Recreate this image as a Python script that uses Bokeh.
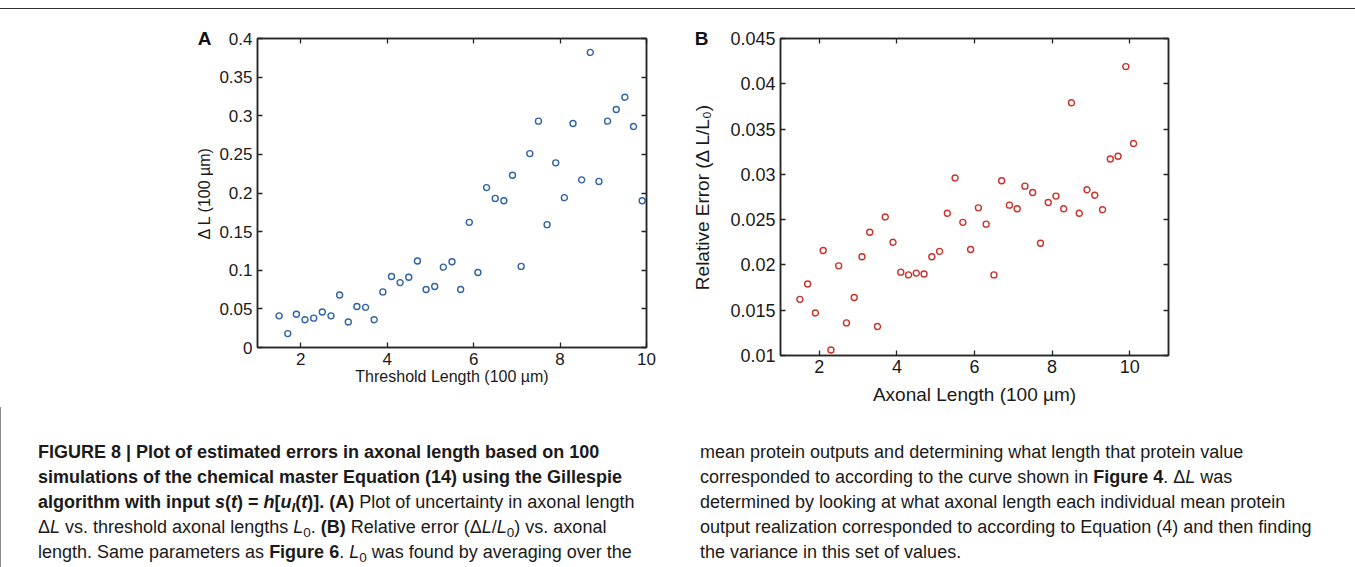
from bokeh.plotting import figure
from bokeh.models import LinearAxis, FixedTicker, Div, Spacer
from bokeh.layouts import column, row
from bokeh.embed import file_html
from bokeh.resources import INLINE

# ---------------- data ----------------
a_x = [1.5, 1.7, 1.9, 2.1, 2.3, 2.5, 2.7, 2.9, 3.1, 3.3, 3.5, 3.7, 3.9, 4.1, 4.3,
       4.5, 4.7, 4.9, 5.1, 5.3, 5.5, 5.7, 5.9, 6.1, 6.3, 6.5, 6.7, 6.9, 7.1, 7.3,
       7.5, 7.7, 7.9, 8.1, 8.3, 8.5, 8.7, 8.9, 9.1, 9.3, 9.5, 9.7, 9.9]
a_y = [0.041, 0.018, 0.043, 0.036, 0.038, 0.046, 0.041, 0.068, 0.033, 0.053, 0.052,
       0.036, 0.072, 0.092, 0.084, 0.091, 0.112, 0.075, 0.079, 0.104, 0.111, 0.075,
       0.162, 0.097, 0.207, 0.193, 0.190, 0.223, 0.105, 0.251, 0.293, 0.159, 0.239,
       0.194, 0.290, 0.217, 0.382, 0.215, 0.293, 0.308, 0.324, 0.286, 0.190]

b_x = [1.5, 1.7, 1.9, 2.1, 2.3, 2.5, 2.7, 2.9, 3.1, 3.3, 3.5, 3.7, 3.9, 4.1, 4.3,
       4.5, 4.7, 4.9, 5.1, 5.3, 5.5, 5.7, 5.9, 6.1, 6.3, 6.5, 6.7, 6.9, 7.1, 7.3,
       7.5, 7.7, 7.9, 8.1, 8.3, 8.5, 8.7, 8.9, 9.1, 9.3, 9.5, 9.7, 9.9, 10.1]
b_y = [0.0162, 0.0179, 0.0147, 0.0216, 0.0106, 0.0199, 0.0136, 0.0164, 0.0209, 0.0236,
       0.0132, 0.0253, 0.0225, 0.0192, 0.0189, 0.0191, 0.0190, 0.0209, 0.0215, 0.0257,
       0.0296, 0.0247, 0.0217, 0.0263, 0.0245, 0.0189, 0.0293, 0.0266, 0.0262, 0.0287,
       0.0280, 0.0224, 0.0269, 0.0276, 0.0262, 0.0379, 0.0257, 0.0283, 0.0277, 0.0261,
       0.0317, 0.0320, 0.0419, 0.0334]

a_xticks = [2, 4, 6, 8, 10]
a_xlabels = ["2", "4", "6", "8", "10"]
a_yticks = [0, 0.05, 0.1, 0.15, 0.2, 0.25, 0.3, 0.35, 0.4]
a_ylabels = ["0", "0.05", "0.1", "0.15", "0.2", "0.25", "0.3", "0.35", "0.4"]
b_xticks = [2, 4, 6, 8, 10]
b_xlabels = ["2", "4", "6", "8", "10"]
b_yticks = [0.01, 0.015, 0.02, 0.025, 0.03, 0.035, 0.04, 0.045]
b_ylabels = ["0.01", "0.015", "0.02", "0.025", "0.03", "0.035", "0.04", "0.045"]

FONT = "Liberation Sans"
AX = "#262626"


def style_panel(p, xt, xl, yt, yl, tick_size, title_size, x_std, y_std, xlab_std, ylab_std,
                letter, letter_std):
    p.outline_line_color = AX
    p.outline_line_width = 1.5
    p.grid.visible = False
    p.background_fill_color = "white"
    p.border_fill_color = "white"
    for ax, ticks, labels, std, lstd in ((p.xaxis[0], xt, xl, x_std, xlab_std),
                                         (p.yaxis[0], yt, yl, y_std, ylab_std)):
        ax.ticker = FixedTicker(ticks=ticks)
        ax.major_label_overrides = {t: s for t, s in zip(ticks, labels)}
        ax.major_tick_in = 5
        ax.major_tick_out = 0
        ax.minor_tick_line_color = None
        ax.axis_line_color = AX
        ax.axis_line_width = 1.5
        ax.major_tick_line_color = AX
        ax.major_tick_line_width = 1.3
        ax.major_label_text_font = FONT
        ax.major_label_text_font_size = tick_size
        ax.major_label_text_color = "#1a1a1a"
        ax.major_label_standoff = std
        ax.axis_label_text_font = FONT
        ax.axis_label_text_font_size = title_size
        ax.axis_label_text_font_style = "normal"
        ax.axis_label_text_color = "#1a1a1a"
        ax.axis_label_standoff = lstd
    # mirrored ticks on top and right (MATLAB box style)
    for loc, ticks in (("above", xt), ("right", yt)):
        ax = LinearAxis(ticker=FixedTicker(ticks=ticks))
        ax.major_label_overrides = {t: "" for t in ticks}
        ax.major_tick_in = 5
        ax.major_tick_out = 0
        ax.minor_tick_line_color = None
        ax.axis_line_color = AX
        ax.axis_line_width = 1.5
        ax.major_tick_line_color = AX
        ax.major_tick_line_width = 1.3
        ax.major_label_standoff = 0
        ax.major_label_text_font_size = "1px"
        p.add_layout(ax, loc)
    # panel letter, level with the top of the axes
    top = yt[-1]
    lab = LinearAxis(ticker=FixedTicker(ticks=[top]))
    lab.major_label_overrides = {top: letter}
    lab.axis_line_color = None
    lab.major_tick_line_color = None
    lab.minor_tick_line_color = None
    lab.major_tick_in = 0
    lab.major_tick_out = 0
    lab.major_label_standoff = letter_std
    lab.major_label_text_font = FONT
    lab.major_label_text_font_style = "bold"
    lab.major_label_text_font_size = "19px"
    lab.major_label_text_color = "#111111"
    p.add_layout(lab, "left")


# ---------------- panel A ----------------
pa = figure(width=510, height=398, frame_width=389, frame_height=309,
            x_range=(1, 10), y_range=(0, 0.4),
            min_border_left=97, min_border_right=24, min_border_top=29, min_border_bottom=60,
            output_backend="svg", toolbar_location=None, margin=0)
pa.xaxis.axis_label = "Threshold Length (100 µm)"
pa.yaxis.axis_label = "Δ L (100 µm)"
style_panel(pa, a_xticks, a_xlabels, a_yticks, a_ylabels, "17px", "16px", 5, 5, 0, 3, "A", -18)
pa.scatter(a_x, a_y, marker="circle", size=6, fill_color=None,
           line_color="#2f63a3", line_width=1.4)

# ---------------- panel B ----------------
pb = figure(width=518, height=398, frame_width=388, frame_height=317,
            x_range=(1, 11), y_range=(0.01, 0.045),
            min_border_left=110, min_border_right=20, min_border_top=28, min_border_bottom=53,
            output_backend="svg", toolbar_location=None, margin=0)
pb.xaxis.axis_label = "Axonal Length (100 µm)"
pb.yaxis.axis_label = "Relative Error (Δ L/L₀)"
style_panel(pb, b_xticks, b_xlabels, b_yticks, b_ylabels, "18px", "19px", 4, 5, 8, 14, "B", -19)
pb.scatter(b_x, b_y, marker="circle", size=6, fill_color=None,
           line_color="#c8322b", line_width=1.4)

# ---------------- caption ----------------
cap_style = ("font-family:'Liberation Sans',Arial,sans-serif;font-size:18px;"
             "line-height:25px;color:#1a1a1a;white-space:nowrap;")
SUB = "<sub style=\"font-size:75%;line-height:0;vertical-align:-0.3em\">"
left_html = (
    f"<div style=\"{cap_style}\">"
    "<b>FIGURE 8 | Plot of estimated errors in axonal length based on 100</b><br>"
    "<b>simulations of the chemical master Equation (14) using the Gillespie</b><br>"
    f"<b>algorithm with input <i>s</i>(<i>t</i>) = <i>h</i>[<i>u</i>{SUB}<i>I</i></sub>(<i>t</i>)]. (A)</b>"
    " Plot of uncertainty in axonal length<br>"
    f"Δ<i>L</i> vs. threshold axonal lengths <i>L</i>{SUB}0</sub>. <b>(B)</b> Relative error "
    f"(Δ<i>L</i>/<i>L</i>{SUB}0</sub>) vs. axonal<br>"
    f"length. Same parameters as <b>Figure 6</b>. <i>L</i>{SUB}0</sub> was found by averaging over the"
    "</div>"
)
right_html = (
    f"<div style=\"{cap_style}\">"
    "mean protein outputs and determining what length that protein value<br>"
    "corresponded to according to the curve shown in <b>Figure 4</b>. Δ<i>L</i> was<br>"
    "determined by looking at what axonal length each individual mean protein<br>"
    "output realization corresponded to according to Equation (4) and then finding<br>"
    "the variance in this set of values."
    "</div>"
)
cap_left = Div(text=left_html, width=662, height=160, margin=0,
               styles={"padding-top": "33px", "box-sizing": "border-box"})
cap_right = Div(text=right_html, width=655, height=160, margin=0,
                styles={"padding-top": "33px", "box-sizing": "border-box"})

top_rule = Div(text="", width=1355, height=9, margin=0,
               styles={"border-bottom": "1.5px solid #333333", "box-sizing": "border-box"})

layout = column(
    top_rule,
    row(Spacer(width=160, height=398, margin=0), pa, pb, margin=0),
    row(Div(text="", width=38, height=160, margin=0,
            styles={"border-left": "1px solid #8a8a8a", "box-sizing": "border-box"}),
        cap_left, cap_right, margin=0),
    margin=0,
)

open("out.html", "w").write(file_html(layout, INLINE))
